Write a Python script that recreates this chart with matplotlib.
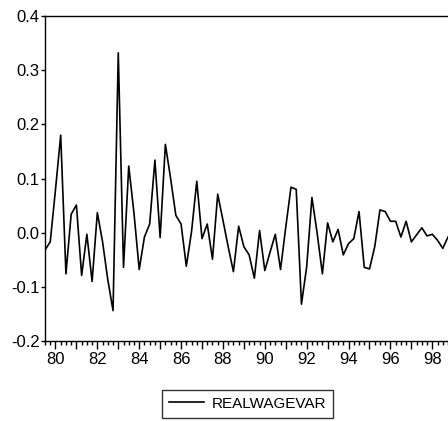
import matplotlib
matplotlib.use("Agg")
import matplotlib.pyplot as plt

# quarterly series, first obs 1979Q3
realwagevar = [-0.032, -0.017, 0.079, 0.180, -0.076, 0.034, 0.051, -0.079,
               -0.003, -0.090, 0.037, -0.017, -0.087, -0.144, 0.332, -0.064,
               0.123, 0.036, -0.068, -0.008, 0.016, 0.134, -0.009, 0.163,
               0.100, 0.032, 0.016, -0.062, 0.002, 0.095, -0.011, 0.016,
               -0.049, 0.071, 0.023, -0.026, -0.072, 0.012, -0.026, -0.041,
               -0.084, 0.004, -0.070, -0.036, -0.003, -0.068, 0.010, 0.084,
               0.080, -0.132, -0.063, 0.065, -0.001, -0.076, 0.018, -0.017,
               0.006, -0.041, -0.020, -0.011, 0.039, -0.064, -0.067, -0.026,
               0.042, 0.039, 0.021, 0.021, -0.008, 0.021, -0.017, -0.004,
               0.009, -0.006, -0.003, -0.014, -0.029, -0.008]
years = list(range(80, 99))
yticks = [-0.2, -0.1, 0.0, 0.1, 0.2, 0.3, 0.4]
ytick_labels = ["-0.2", "-0.1", "0.0", "0.1", "0.2", "0.3", "0.4"]

plt.rcParams['font.family'] = ['Liberation Sans', 'DejaVu Sans']

fig = plt.figure(figsize=(4.48, 4.21), dpi=100)
ax = fig.add_axes([45/448, 80/421, 403/448, 325/421])

x = list(range(len(realwagevar)))
ax.plot(x, realwagevar, color='black', linewidth=1.2, label='REALWAGEVAR')

ax.set_xlim(0, 77)
ax.set_ylim(-0.2, 0.4)
ax.set_yticks(yticks)
ax.set_yticklabels(ytick_labels)

year_pos = [2 + 4*k for k in range(len(years))]
ax.set_xticks(year_pos)
ax.set_xticklabels(["%02d" % y if y % 2 == 0 else "" for y in years])
ax.set_xticks(x, minor=True)

ax.tick_params(axis='y', direction='out', length=3, width=1, labelsize=12, pad=1)
ax.tick_params(axis='x', which='major', direction='out', length=6, width=1, labelsize=12, pad=2)
ax.tick_params(axis='x', which='minor', direction='out', length=3, width=1)

ax.spines['right'].set_visible(False)
for s in ['left', 'top', 'bottom']:
    ax.spines[s].set_linewidth(1.0)

leg = ax.legend(loc='center', bbox_to_anchor=(0.5525, 0.041), bbox_transform=fig.transFigure,
                frameon=True, fancybox=False, fontsize=11, handlelength=2.3,
                handletextpad=0.45, borderpad=0.45, borderaxespad=0)
leg.get_frame().set_edgecolor('black')
leg.get_frame().set_linewidth(1.0)

fig.savefig("out.png", dpi=100)
